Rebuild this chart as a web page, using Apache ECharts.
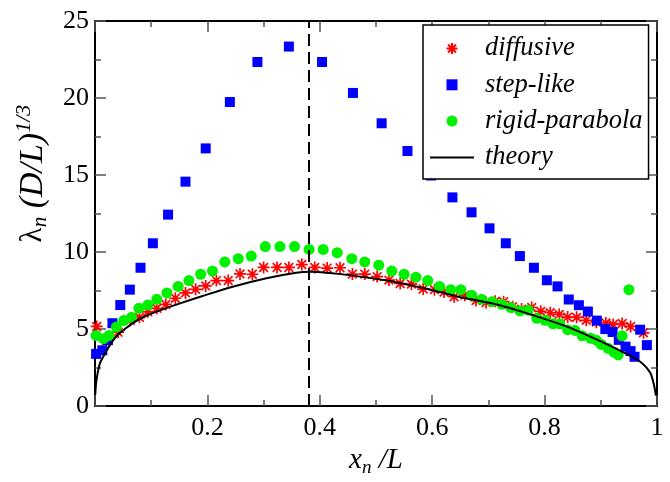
<!DOCTYPE html>
<html>
<head>
<meta charset="utf-8">
<script src="https://cdn.jsdelivr.net/npm/echarts@6/dist/echarts.min.js"></script>
<style>html,body{margin:0;padding:0;background:#fff}#c{width:670px;height:482px}</style>
</head>
<body>
<div id="c"></div>
<script>
// x-axis ticks
var xTicks = [0.2, 0.4, 0.6, 0.8, 1];
var yTicks = [0, 5, 10, 15, 20, 25];
var seriesNames = ['diffusive', 'step-like', 'rigid-parabola', 'theory'];

var diffX = [0.003,0.020,0.041,0.063,0.079,0.094,0.110,0.126,0.143,0.161,0.179,0.197,0.216,0.237,0.258,0.280,0.300,0.324,0.345,0.368,0.391,0.413,0.436,0.458,0.480,0.502,0.523,0.543,0.563,0.584,0.604,0.621,0.639,0.658,0.678,0.696,0.712,0.727,0.743,0.759,0.777,0.793,0.810,0.826,0.841,0.857,0.874,0.892,0.909,0.922,0.938,0.953,0.976];
var diffY = [5.17,4.20,4.80,5.57,5.76,6.12,6.35,6.60,7.00,7.35,7.58,7.80,8.15,8.15,8.58,8.56,9.00,9.00,9.00,9.19,9.00,8.96,8.98,8.57,8.57,8.41,8.18,7.96,7.92,7.60,7.56,7.40,7.10,7.20,6.85,6.72,6.80,6.78,6.45,6.30,6.40,6.15,6.06,5.95,5.78,5.76,5.57,5.45,5.40,5.30,5.36,5.17,4.76];

var stepX = [0.002,0.013,0.023,0.031,0.045,0.062,0.081,0.103,0.130,0.161,0.197,0.240,0.289,0.345,0.404,0.459,0.510,0.556,0.598,0.636,0.670,0.702,0.731,0.756,0.781,0.804,0.823,0.843,0.861,0.877,0.893,0.908,0.921,0.932,0.944,0.953,0.960,0.970,0.982];
var stepY = [3.39,3.62,4.28,5.38,6.56,7.56,8.98,10.57,12.43,14.57,16.73,19.74,22.34,23.34,22.34,20.33,18.36,16.56,14.97,13.55,12.58,11.54,10.57,9.74,8.98,8.17,7.77,6.92,6.55,6.14,5.55,5.00,4.81,4.30,3.86,3.57,3.20,4.96,3.96];

var rigX = [0.002,0.015,0.025,0.038,0.051,0.065,0.078,0.094,0.110,0.128,0.148,0.167,0.188,0.209,0.231,0.255,0.278,0.303,0.329,0.355,0.381,0.406,0.431,0.457,0.480,0.505,0.528,0.550,0.571,0.592,0.613,0.633,0.651,0.670,0.688,0.707,0.724,0.740,0.756,0.771,0.786,0.801,0.815,0.827,0.841,0.854,0.867,0.882,0.892,0.901,0.913,0.923,0.931,0.938,0.950];
var rigY = [4.59,4.38,4.59,5.13,5.55,5.76,6.35,6.56,6.93,7.35,7.77,8.15,8.56,8.77,9.36,9.57,9.74,10.36,10.36,10.36,10.17,10.17,9.96,9.57,9.36,9.15,8.77,8.56,8.37,8.15,7.77,7.56,7.56,7.20,6.93,6.78,6.61,6.40,6.18,6.23,5.70,5.57,5.34,5.34,4.96,4.91,4.56,4.40,4.28,4.00,3.75,3.50,3.32,4.56,7.56];

var thX = [0.0005,0.002,0.005,0.009,0.018,0.030,0.041,0.053,0.070,0.090,0.113,0.150,0.190,0.245,0.305,0.358,0.383,0.418,0.459,0.519,0.578,0.614,0.655,0.715,0.783,0.842,0.902,0.949,0.973,0.988,0.995,0.998];
var thY = [0.75,1.5,2.2,2.8,3.43,4.15,4.65,5.0,5.45,5.85,6.18,6.65,7.13,7.75,8.3,8.66,8.72,8.64,8.47,8.15,7.71,7.4,7.03,6.6,5.86,5.13,4.17,3.32,2.8,2.16,1.31,0.68];

var dashedX = 0.383;

function pairs(xs, ys) { return xs.map(function (x, i) { return [x, ys[i]]; }); }

var FONT = 'Liberation Serif';
var star = 'path://M0,-5L0,5M-5,0L5,0M-3.6,-3.6L3.6,3.6M-3.6,3.6L3.6,-3.6';

function axisCommon(extra) {
  var base = {
    type: 'value',
    axisLine: { show: true, onZero: false, lineStyle: { color: '#000', width: 2 } },
    axisTick: { show: true, inside: true, length: 11, lineStyle: { color: '#555', width: 1.5 } },
    minorTick: { show: true, splitNumber: 2, length: 6, lineStyle: { color: '#555', width: 1.5 } },
    splitLine: { show: false },
    minorSplitLine: { show: false }
  };
  for (var k in extra) base[k] = extra[k];
  return base;
}

var chart = echarts.init(document.getElementById('c'), null, { renderer: 'canvas' });
chart.setOption({
  animation: false,
  backgroundColor: '#fff',
  grid: { left: 95, right: 13, top: 21, bottom: 68, containLabel: false },
  legend: {
    orient: 'vertical',
    left: 423, top: 25,
    padding: [10, 6, 8, 7],
    itemGap: 9.3,
    itemWidth: 44, itemHeight: 11,
    borderColor: '#000', borderWidth: 1.5,
    backgroundColor: '#fff',
    data: [
      { name: seriesNames[0] },
      { name: seriesNames[1], icon: 'path://M0,0L10,0L10,10L0,10Z' },
      { name: seriesNames[2] },
      { name: seriesNames[3], icon: 'path://M0,0L44,0L44,2L0,2Z' }
    ],
    textStyle: { fontFamily: FONT, fontStyle: 'italic', fontSize: 26.5, color: '#000', lineHeight: 26, padding: [0, 0, 0, 6] }
  },
  xAxis: [
    axisCommon({
      min: 0, max: 1, interval: 0.2, position: 'bottom',
      axisLabel: {
        show: true, margin: 9, color: '#000', fontFamily: FONT, fontSize: 26, showMaxLabel: true, showMinLabel: true,
        formatter: function (v) { return v === 0 ? '' : String(+v.toFixed(1)); }
      },
      name: '{i|x}{sub|n}{i| /L}',
      nameLocation: 'middle', nameGap: 30,
      nameTextStyle: {
        rich: {
          i: { fontFamily: FONT, fontStyle: 'italic', fontSize: 29, color: '#000' },
          sub: { fontFamily: FONT, fontStyle: 'italic', fontSize: 19, color: '#000', padding: [14, 0, 0, 0] }
        }
      }
    }),
    axisCommon({ min: 0, max: 1, interval: 0.2, position: 'top', axisLabel: { show: false } })
  ],
  yAxis: [
    axisCommon({
      min: 0, max: 25, interval: 5, position: 'left',
      axisLabel: { show: true, margin: 6, color: '#000', fontFamily: FONT, fontSize: 26, showMaxLabel: true, showMinLabel: true },
      name: '{g|λ}{sub|n}{i| (D/L)}{sup|1/3}',
      nameLocation: 'middle', nameGap: 42, nameRotate: 90,
      nameTextStyle: {
        padding: [0, 0, 0, 80],
        rich: {
          g: { fontFamily: FONT, fontSize: 31, color: '#000' },
          i: { fontFamily: FONT, fontStyle: 'italic', fontSize: 34, color: '#000' },
          sub: { fontFamily: FONT, fontStyle: 'italic', fontSize: 21, color: '#000', padding: [14, 0, 0, 0] },
          sup: { fontFamily: FONT, fontStyle: 'italic', fontSize: 22, color: '#000', padding: [0, 0, 18, 0] }
        }
      }
    }),
    axisCommon({ min: 0, max: 25, interval: 5, position: 'right', axisLabel: { show: false } })
  ],
  series: [
    {
      name: seriesNames[0], type: 'scatter', symbol: star, symbolSize: 12,
      itemStyle: { color: '#ff0000', borderColor: '#ff0000', borderWidth: 1.7, opacity: 1 },
      data: pairs(diffX, diffY)
    },
    {
      name: seriesNames[1], type: 'scatter', symbol: 'rect', symbolSize: 10,
      itemStyle: { color: '#0000ff', opacity: 1 },
      data: pairs(stepX, stepY)
    },
    {
      name: seriesNames[2], type: 'scatter', symbol: 'circle', symbolSize: 11,
      itemStyle: { color: '#00f000', opacity: 1 },
      data: pairs(rigX, rigY)
    },
    {
      name: seriesNames[3], type: 'line', symbol: 'none', smooth: 0.3,
      lineStyle: { color: '#000', width: 2 },
      itemStyle: { color: '#000' },
      data: pairs(thX, thY),
      markLine: {
        silent: true, symbol: ['none', 'none'], label: { show: false },
        lineStyle: { color: '#000', width: 2, type: [12, 6] },
        data: [{ xAxis: dashedX }]
      }
    }
  ]
});
</script>
</body>
</html>
